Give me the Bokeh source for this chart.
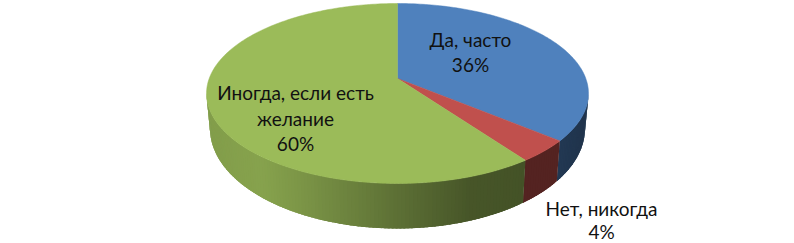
import math
from bokeh.plotting import figure
from bokeh.embed import file_html
from bokeh.resources import INLINE
from bokeh.models import Range1d
from bokeh.core.properties import value

categories = ["Да, часто", "Нет, никогда", "Иногда, если есть желание"]
shares = [36, 4, 60]
colors = ["#4f81bd", "#c0504d", "#9bbb59"]
label_lines = [["Да, часто", "36%"], ["Нет, никогда", "4%"], ["Иногда, если есть", "желание", "60%"]]
label_pos = [(470, 39), (601, 208), (295, 92)]
label_gap = [25, 23, 25.5]

W, H = 794, 243
CX, K, C, D, E = 397.0, 1/6, 78.0, -74.5, 188.3
BOT_A, BOT_B, BOT_Y = 187.5, 100.0, 128.0
TOP_A = 191.0


def top(a):
    u, v = math.sin(a), math.cos(a)
    w = 1 + K * v
    return CX + E * u / w, (C + D * v) / w


def bottom(a):
    x, _ = top(a)
    t = min(1.0, abs(x - CX) / TOP_A)
    return CX + (x - CX) * BOT_A / TOP_A, BOT_Y + BOT_B * math.sqrt(1 - t * t)


# shading of the rim against page x: darker toward the right
shade_x = [200, 260, 300, 397, 470, 530, 560, 590]
shade_f = [0.84, 0.87, 0.80, 0.60, 0.46, 0.44, 0.44, 0.40]


def shade(hexc, x):
    f = shade_f[-1]
    for i in range(len(shade_x) - 1):
        if shade_x[i] <= x <= shade_x[i + 1]:
            t = (x - shade_x[i]) / (shade_x[i + 1] - shade_x[i])
            f = shade_f[i] + t * (shade_f[i + 1] - shade_f[i])
            break
    if x < shade_x[0]:
        f = shade_f[0]
    r, g, b = [int(hexc[i:i + 2], 16) for i in (1, 3, 5)]
    return "#%02x%02x%02x" % (int(r * f), int(g * f), int(b * f))


p = figure(width=W, height=H, output_backend="svg", toolbar_location=None,
           x_range=Range1d(0, W), y_range=Range1d(H, 0),
           min_border=0, outline_line_color=None, background_fill_color="white",
           border_fill_color="white")
p.axis.visible = False
p.grid.visible = False

total = sum(shares)
edges = [0.0]
for s in shares:
    edges.append(edges[-1] + s / total * 2 * math.pi)

# rim strips between the widest points of the top face; each overlaps the next
RIM_START = math.acos(-K)
RIM_END = 2 * math.pi - RIM_START
xs, ys, cs = [], [], []
STEP = math.radians(1.0)
for i, col in enumerate(colors):
    a = max(edges[i], RIM_START)
    end = min(edges[i + 1], RIM_END)
    while a < end:
        b = min(a + STEP, end)
        b2 = min(a + 2.5 * STEP, end)
        t0, t1, b1, b0 = top(a), top(b2), bottom(b2), bottom(a)
        xs.append([t0[0], t1[0], b1[0], b0[0]])
        ys.append([t0[1], t1[1], b1[1], b0[1]])
        cs.append(shade(col, (top(a)[0] + top(b)[0]) / 2))
        a = b
p.patches(xs, ys, fill_color=cs, line_color=None)

# top faces
for i, col in enumerate(colors):
    n = max(2, int((edges[i + 1] - edges[i]) / math.radians(1)))
    pts = [top(edges[i] + (edges[i + 1] - edges[i]) * j / n) for j in range(n + 1)]
    px = [CX] + [q[0] for q in pts]
    py = [C] + [q[1] for q in pts]
    p.patch(px, py, fill_color=col, line_color=col, line_width=0.5)

# labels
for lines, (lx, ly), gap in zip(label_lines, label_pos, label_gap):
    for j, t in enumerate(lines):
        p.text([lx], [ly + j * gap], text=[t], text_align="center", text_baseline="middle",
               text_font=value("Lato"), text_font_size="19px", text_color="#111111")

open("out.html", "w").write(file_html(p, INLINE))
